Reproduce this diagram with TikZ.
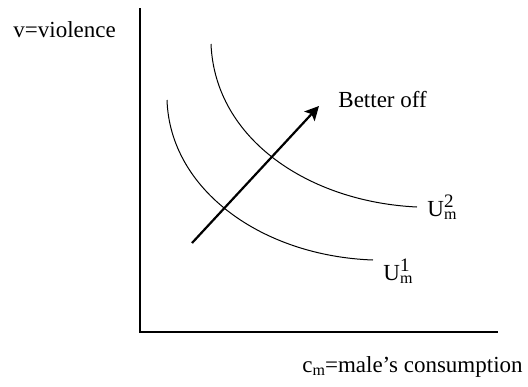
\documentclass[tikz,border=0pt]{standalone}
\usepackage{fontspec}
\setmainfont{Liberation Serif}
\usetikzlibrary{arrows.meta}

\begin{document}
\begin{tikzpicture}[x=0.5pt,y=-0.5pt,axis/.style={line width=0.6pt},indiff/.style={line width=0.5pt},betterarrow/.style={line width=1.1pt,-{Stealth[length=7pt,width=7pt,inset=1.5pt]}},lbl/.style={font=\fontsize{11.5}{14}\selectfont,inner sep=0pt,anchor=base west}]
\useasboundingbox (0,0) rectangle (528,386);
\coordinate (O) at (140,332);
\coordinate (Ytop) at (140,8);
\coordinate (Xend) at (498,332);
\coordinate (A1) at (167,100);
\coordinate (B1) at (373,260);
\coordinate (A2) at (211,44);
\coordinate (B2) at (417,207);
\coordinate (S) at (192,243);
\coordinate (T) at (319,106);
\draw[axis] (Ytop) -- (O) -- (Xend);
\draw[indiff] (A1) .. controls (170,190) and (262,256) .. (B1);
\draw[indiff] (A2) .. controls (215,140) and (310,202) .. (B2);
\draw[betterarrow] (S) -- (T);
\node[lbl] (vlab) at (13,37) {v=violence};
\node[lbl] (clab) at (302,372) {c\raisebox{-1.5pt}{\fontsize{8}{8}\selectfont m}=male’s consumption};
\node[lbl] (better) at (338,107) {Better off};
\node[lbl] (u1) at (383,280) {U\rlap{\raisebox{4.5pt}{\fontsize{9.5}{10}\selectfont 1}}\raisebox{-1.5pt}{\fontsize{8}{8}\selectfont m}};
\node[lbl] (u2) at (427,216) {U\rlap{\raisebox{4.5pt}{\fontsize{9.5}{10}\selectfont 2}}\raisebox{-1.5pt}{\fontsize{8}{8}\selectfont m}};
\end{tikzpicture}
\end{document}
